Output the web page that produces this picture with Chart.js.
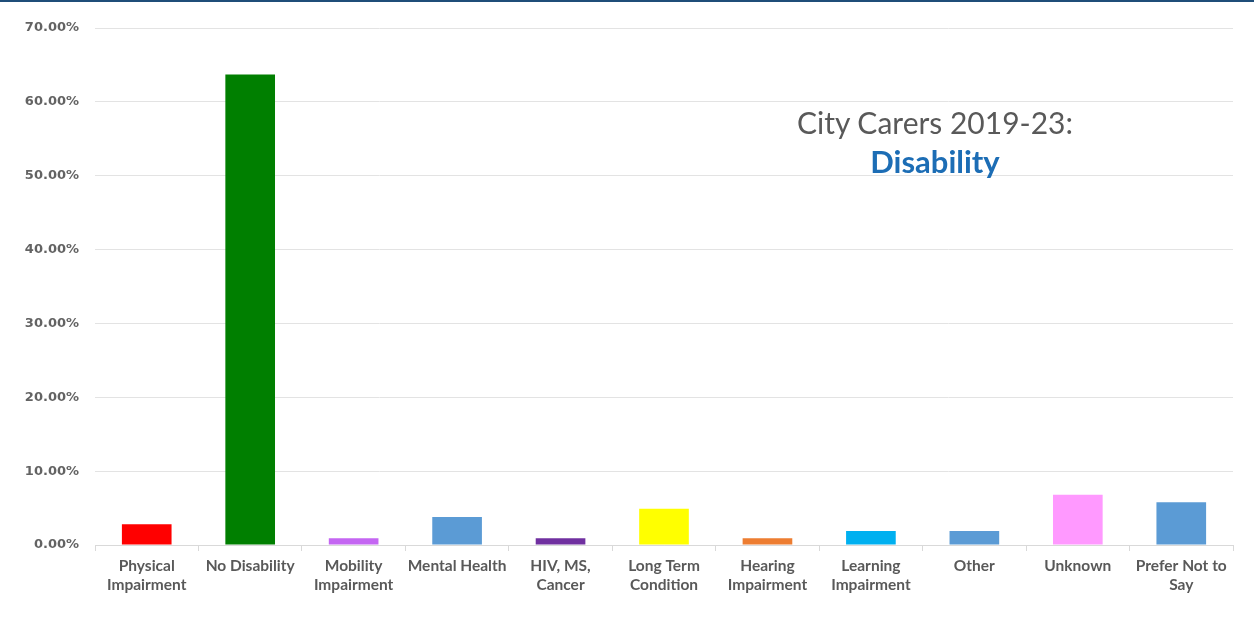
<!DOCTYPE html>
<html>
<head>
<meta charset="utf-8">
<script src="https://cdn.jsdelivr.net/npm/chart.js@4/dist/chart.umd.min.js"></script>
<style>
  html, body { margin: 0; padding: 0; background: #fff; }
  .wrap { position: relative; width: 1254px; height: 627px; overflow: hidden; }
  .wrap .topline { position: absolute; left: 0; top: 0; width: 1254px; height: 2px; background: #1f4e79; }
  .wrap canvas { position: absolute; left: 0; top: 0; }
  .title { position: absolute; left: 735px; width: 400px; text-align: center; font-family: Lato, "Open Sans", sans-serif; line-height: 1.2; }
  .title.main { top: 104px; font-size: 30px; color: #595959; }
  .title.sub { top: 143px; font-size: 31px; font-weight: bold; color: #1c6db5; }
</style>
</head>
<body>
<div class="wrap">
  <canvas id="myChart" width="1254" height="627"></canvas>
  <div class="topline"></div>
  <div class="title main">City Carers 2019-23:</div>
  <div class="title sub">Disability</div>
</div>
<script>
const categories = [
	['Physical', 'Impairment'], 'No Disability', ['Mobility', 'Impairment'], 'Mental Health',
	['HIV, MS,', 'Cancer'], ['Long Term', 'Condition'], ['Hearing', 'Impairment'],
	['Learning', 'Impairment'], 'Other', 'Unknown', ['Prefer Not to', 'Say']
];
const percentages = [2.8, 63.7, 0.9, 3.8, 0.9, 4.9, 0.9, 1.9, 1.9, 6.8, 5.8];
const barColours = ['#ff0000', '#007f00', '#c466f2', '#5b9bd5', '#7030a0', '#ffff00', '#ed7d31', '#00b0f0', '#5b9bd5', '#ff99ff', '#5b9bd5'];
const yTicks = [0, 10, 20, 30, 40, 50, 60, 70];

const ctx = document.getElementById('myChart').getContext('2d');
let myChart = new Chart(ctx, {
	type: 'bar',
	data: {
		labels: categories,
		datasets: [
			{
				label: 'Disability',
				data: percentages,
				backgroundColor: barColours,
				borderWidth: 0,
				barPercentage: 0.48,
				categoryPercentage: 1
			}
		]
	},
	options: {
		responsive: false,
		animation: false,
		layout: { padding: { top: 28, right: 21, left: 0, bottom: 0 } },
		plugins: {
			legend: { display: false },
			tooltip: { enabled: false }
		},
		scales: {
			x: {
				grid: { offset: true, drawOnChartArea: false, color: '#d9d9d9', tickLength: 6 },
				border: { color: '#d9d9d9', width: 1 },
				ticks: {
					color: '#595959',
					maxRotation: 0,
					autoSkip: false,
					padding: 5,
					font: { family: 'Lato', size: 15.5, weight: 'bold', lineHeight: 1.23 }
				},
				afterFit: scale => { scale.height = 82; }
			},
			y: {
				min: 0,
				max: 70,
				afterBuildTicks: scale => { scale.ticks = yTicks.map(v => ({ value: v })); },
				grid: { color: '#e3e3e3', drawTicks: false },
				border: { display: false },
				ticks: {
					color: '#636363',
					padding: 16,
					font: { family: 'DejaVu Sans', size: 13, weight: 'bold' },
					callback: v => v.toFixed(2) + '%'
				},
				afterFit: scale => { scale.width = 95; }
			}
		}
	}
});
</script>
</body>
</html>
